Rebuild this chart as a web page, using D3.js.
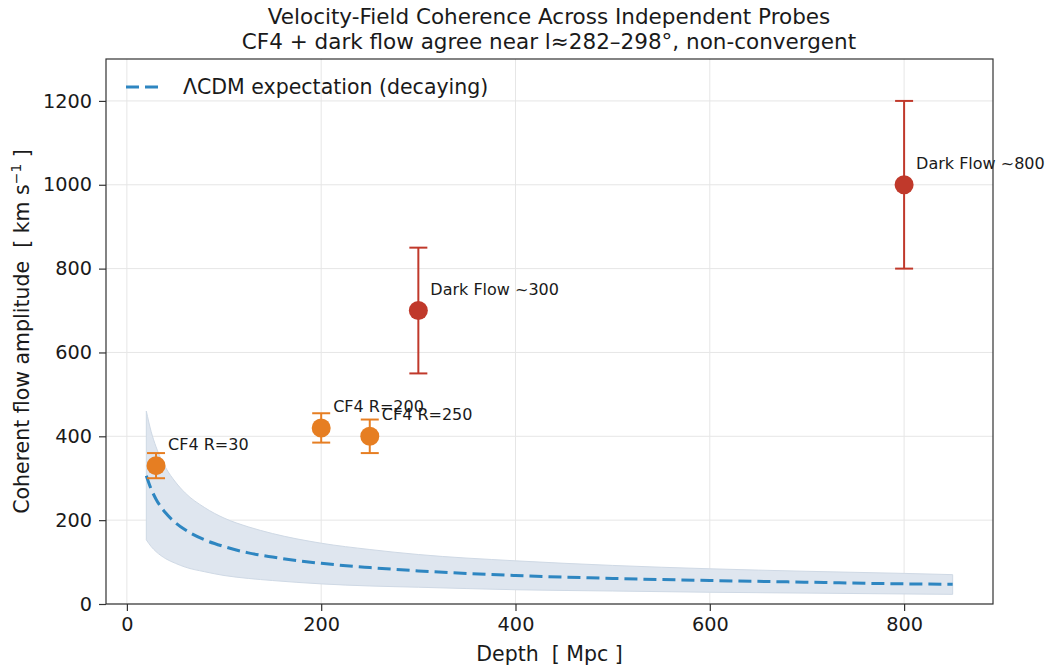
<!DOCTYPE html>
<html>
<head>
<meta charset="utf-8">
<script src="https://cdn.jsdelivr.net/npm/d3@7"></script>
<style>
  body { margin: 0; background: #fff; }
  svg { display: block; font-family: "DejaVu Sans", sans-serif; }
</style>
</head>
<body>
<svg id="chart" width="1048" height="668"></svg>
<script>
// LCDM expectation curve at a few depths
const lcdmDepth = [20, 25, 30, 40, 50, 60, 80, 100, 125, 150, 200, 250, 300, 400, 500, 600, 700, 800, 850]
const lcdmMid   = [306, 274, 250, 217, 194, 177, 153, 137, 122, 112, 97, 87, 79, 68, 61, 56, 52, 48, 47]
const lcdmHigh  = [460, 411, 375, 325, 291, 265, 230, 205, 184, 168, 145, 130, 118, 103, 92, 84, 78, 73, 70]
const lcdmLow   = [153, 137, 125, 108, 97, 88, 77, 68, 61, 56, 48, 43, 40, 34, 31, 28, 26, 24, 23]

// Independent probes
const probeName  = ["CF4 R=30", "CF4 R=200", "CF4 R=250", "Dark Flow ~300", "Dark Flow ~800"]
const probeDepth = [30, 200, 250, 300, 800]
const probeAmp   = [330, 420, 400, 700, 1000]
const probeErr   = [30, 35, 40, 150, 200]
const probeKind  = ["cf4", "cf4", "cf4", "dark", "dark"]

const xTicks = [0, 200, 400, 600, 800]
const yTicks = [0, 200, 400, 600, 800, 1000, 1200]

const kindColor = { cf4: "#e67e22", dark: "#c0392b" }
const lineColor = "#2e86c1"
const textColor = "#1a1a1a"

const svg = d3.select("#chart")
const plot = { left: 106, top: 59, right: 993, bottom: 604 }

const x = d3.scaleLinear().domain([-21.5, 891.5]).range([plot.left, plot.right])
const y = d3.scaleLinear().domain([0, 1300]).range([plot.bottom, plot.top])

// grid lines first so everything sits on top
const grid = svg.append("g").attr("stroke", "#e6e6e6").attr("stroke-width", 1)
grid.selectAll(".gx").data(xTicks).enter().append("line")
  .attr("x1", d => x(d)).attr("x2", d => x(d))
  .attr("y1", plot.top).attr("y2", plot.bottom)
grid.selectAll(".gy").data(yTicks).enter().append("line")
  .attr("x1", plot.left).attr("x2", plot.right)
  .attr("y1", d => y(d)).attr("y2", d => y(d))

// shaded band around the expectation
const band = lcdmDepth.map((d, i) => ({ x: d, lo: lcdmLow[i], hi: lcdmHigh[i] }))
const area = d3.area()
  .x(d => x(d.x)).y0(d => y(d.lo)).y1(d => y(d.hi))
  .curve(d3.curveMonotoneX)
svg.append("path")
  .datum(band)
  .attr("d", area)
  .attr("fill", "#dfe6ef")
  .attr("stroke", "#cfd9e5")
  .attr("stroke-width", 1)

// dashed expectation line
const mid = lcdmDepth.map((d, i) => ({ x: d, v: lcdmMid[i] }))
svg.append("path")
  .datum(mid)
  .attr("d", d3.line().x(d => x(d.x)).y(d => y(d.v)).curve(d3.curveMonotoneX))
  .attr("fill", "none")
  .attr("stroke", lineColor)
  .attr("stroke-width", 3)
  .attr("stroke-dasharray", "13,6")

// error bars, markers and labels for each probe
const probes = probeName.map((n, i) => ({
  name: n, x: probeDepth[i], v: probeAmp[i], e: probeErr[i], c: kindColor[probeKind[i]]
}))
const pg = svg.append("g").selectAll("g").data(probes).enter().append("g")
pg.append("line")
  .attr("x1", d => x(d.x)).attr("x2", d => x(d.x))
  .attr("y1", d => y(d.v - d.e)).attr("y2", d => y(d.v + d.e))
  .attr("stroke", d => d.c).attr("stroke-width", 2)
pg.selectAll(".cap").data(d => [d.v - d.e, d.v + d.e].map(v => ({ x: d.x, v: v, c: d.c })))
  .enter().append("line")
  .attr("x1", d => x(d.x) - 9).attr("x2", d => x(d.x) + 9)
  .attr("y1", d => y(d.v)).attr("y2", d => y(d.v))
  .attr("stroke", d => d.c).attr("stroke-width", 2)
pg.append("circle")
  .attr("cx", d => x(d.x)).attr("cy", d => y(d.v))
  .attr("r", 9.5)
  .attr("fill", d => d.c)
pg.append("text")
  .attr("x", d => x(d.x) + 12).attr("y", d => y(d.v) - 16)
  .attr("font-size", 16)
  .attr("fill", textColor)
  .text(d => d.name)

// axes frame
svg.append("rect")
  .attr("x", plot.left).attr("y", plot.top)
  .attr("width", plot.right - plot.left).attr("height", plot.bottom - plot.top)
  .attr("fill", "none").attr("stroke", "#333").attr("stroke-width", 1.2)

const xAxis = svg.append("g")
  .attr("transform", `translate(0,${plot.bottom})`)
  .call(d3.axisBottom(x).tickValues(xTicks).tickFormat(d3.format("d")).tickSize(7).tickPadding(6))
const yAxis = svg.append("g")
  .attr("transform", `translate(${plot.left},0)`)
  .call(d3.axisLeft(y).tickValues(yTicks).tickFormat(d3.format("d")).tickSize(7).tickPadding(7))
for (const ax of [xAxis, yAxis]) {
  ax.select(".domain").remove()
  ax.selectAll("line").attr("stroke", "#333").attr("stroke-width", 1.2)
  ax.selectAll("text").attr("font-size", 19.3).attr("fill", textColor)
    .attr("font-family", "DejaVu Sans, sans-serif")
}

// axis titles
svg.append("text")
  .attr("x", (plot.left + plot.right) / 2).attr("y", 661)
  .attr("text-anchor", "middle").attr("font-size", 20.5).attr("fill", textColor)
  .attr("xml:space", "preserve")
  .text("Depth  [ Mpc ]")

const ylab = svg.append("text")
  .attr("transform", `translate(29,${(plot.top + plot.bottom) / 2}) rotate(-90)`)
  .attr("text-anchor", "middle").attr("font-size", 20.5).attr("fill", textColor)
  .attr("xml:space", "preserve")
ylab.append("tspan").text("Coherent flow amplitude  [ km s")
ylab.append("tspan").attr("dy", -8).attr("font-size", 14).text("\u22121")
ylab.append("tspan").attr("dy", 8).text(" ]")

// title
svg.append("text")
  .attr("x", 549).attr("y", 24)
  .attr("text-anchor", "middle").attr("font-size", 21.5).attr("fill", textColor)
  .text("Velocity-Field Coherence Across Independent Probes")
svg.append("text")
  .attr("x", 549).attr("y", 49)
  .attr("text-anchor", "middle").attr("font-size", 21.5).attr("fill", textColor)
  .text("CF4 + dark flow agree near l\u2248282\u2013298\u00b0, non-convergent")

// legend (no frame)
svg.append("line")
  .attr("x1", 126).attr("x2", 164).attr("y1", 87).attr("y2", 87)
  .attr("stroke", lineColor).attr("stroke-width", 3).attr("stroke-dasharray", "13,6")
svg.append("text")
  .attr("x", 183).attr("y", 94)
  .attr("font-size", 20.5).attr("fill", textColor)
  .text("\u039bCDM expectation (decaying)")
</script>
</body>
</html>
